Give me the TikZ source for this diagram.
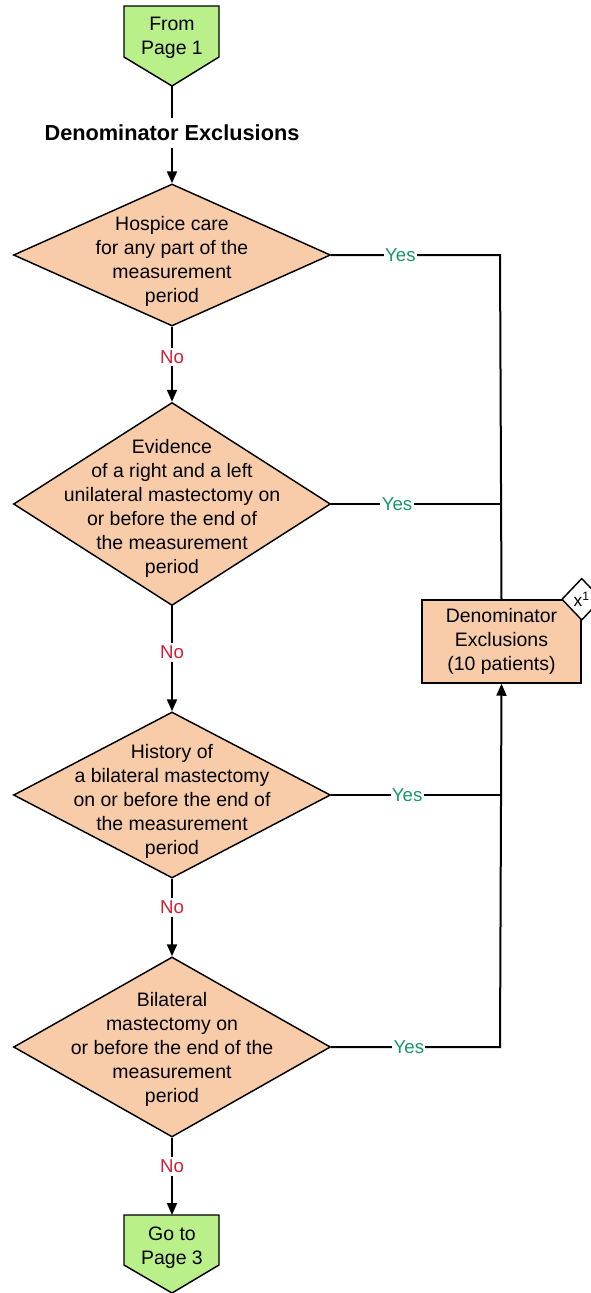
\documentclass[tikz,border=0pt]{standalone}
\usepackage{fontspec}
\setmainfont{Liberation Sans}
\usetikzlibrary{shapes.geometric,arrows.meta}
\definecolor{greenfill}{RGB}{185,240,138}
\definecolor{peach}{RGB}{248,204,169}
\definecolor{yesgreen}{RGB}{24,150,110}
\definecolor{nored}{RGB}{208,32,56}
\tikzset{
  line/.style={draw=black, line width=1.5pt},
  arr/.style={line, -{Triangle[length=9pt,width=7.5pt]}},
  dia/.style={diamond, draw=black, line width=1.1pt, fill=peach, inner sep=0pt},
  txt/.style={align=center, font=\fontsize{14.6}{18}\selectfont, inner sep=0pt},
  box/.style={rectangle, draw=black, line width=1.1pt, fill=peach, align=center,
              font=\fontsize{14.6}{18}\selectfont, inner sep=0pt},
  yes/.style={fill=white, text=yesgreen, font=\fontsize{14}{16}\selectfont, inner sep=1pt},
  no/.style={fill=white, text=nored, font=\fontsize{14}{16}\selectfont, inner sep=2pt},
  pent/.style={draw=black, line width=1.1pt, fill=greenfill},
}
\begin{document}
\begin{tikzpicture}[x=0.75pt, y=-0.75pt]
\useasboundingbox (0,0) rectangle (590,1293);
% top connector pentagon
\path[pent] (124,6) -- (219,6) -- (219,57) -- (172,86) -- (124,57) -- cycle;
\node[txt] (p1) at (172,38) {From\\Page 1};
\coordinate (p1tip) at (172,86);
% title
\node[font=\bfseries\fontsize{16.3}{19}\selectfont, inner sep=0pt, outer sep=0pt, minimum height=30*0.75pt] (title) at (172,133) {Denominator Exclusions};
% diamonds
\node[dia, minimum width=317*0.75pt, minimum height=142*0.75pt] (d1) at (172,255) {};
\node[txt] (t1) at (172,261) {Hospice care\\for any part of the\\measurement\\period};
\node[dia, minimum width=317*0.75pt, minimum height=203*0.75pt] (d2) at (172,504) {};
\node[txt] (t2) at (172,508) {Evidence\\of a right and a left\\unilateral mastectomy on\\or before the end of\\the measurement\\period};
\node[dia, minimum width=317*0.75pt, minimum height=166*0.75pt] (d3) at (172,795) {};
\node[txt] (t3) at (172,801) {History of\\a bilateral mastectomy\\on or before the end of\\the measurement\\period};
\node[dia, minimum width=317*0.75pt, minimum height=180*0.75pt] (d4) at (172,1047) {};
\node[txt] (t4) at (172,1049) {Bilateral\\mastectomy on\\or before the end of the\\measurement\\period};
% bottom connector pentagon
\path[pent] (124,1215) -- (219,1215) -- (219,1265) -- (172,1293) -- (124,1265) -- cycle;
\node[txt] (p3) at (172,1248) {Go to\\Page 3};
\coordinate (p3top) at (172,1215);
% result box
\node[box, minimum width=159*0.75pt, minimum height=83*0.75pt] (ex) at (501.5,641.5) {Denominator\\Exclusions\\(10 patients)};
\node[diamond, draw=black, line width=1.1pt, fill=white, inner sep=0pt,
      minimum width=40*0.75pt, minimum height=42*0.75pt,
      font=\fontsize{13}{15}\selectfont] (x1) at (ex.north east) {x\textsuperscript{1}};
% junctions
\coordinate (j1) at (500,255);
\coordinate (j2) at (500,504);
\coordinate (j3) at (500,795);
\coordinate (j4) at (500,1047);
% connectors
\draw[line] (p1tip) -- (title);
\draw[arr] (title) -- (d1.north);
\draw[arr] (d1.south) -- node[no, pos=0.4] {No} (d2.north);
\draw[arr] (d2.south) -- node[no, pos=0.44] {No} (d3.north);
\draw[arr] (d3.south) -- node[no, pos=0.37] {No} (d4.north);
\draw[arr] (d4.south) -- node[no, pos=0.37] {No} (p3top);
\draw[line] (d1.east) -- node[yes, pos=0.41] {Yes} (j1) -- (ex.north);
\draw[line] (d2.east) -- node[yes, pos=0.39] {Yes} (j2);
\draw[line] (d3.east) -- node[yes, pos=0.45] {Yes} (j3);
\draw[arr] (d4.east) -- node[yes, pos=0.46] {Yes} (j4) -- (ex.south);
\end{tikzpicture}
\end{document}
